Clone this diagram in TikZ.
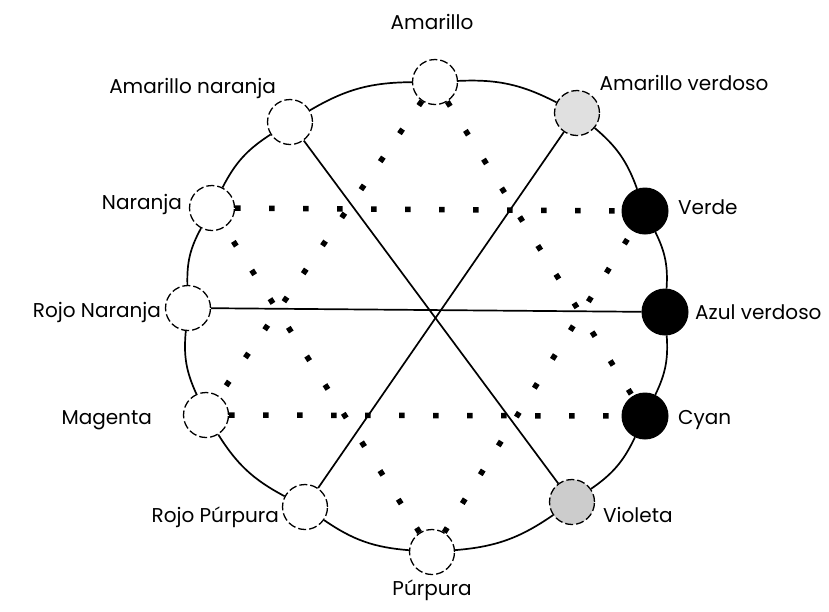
\documentclass[tikz,border=0pt]{standalone}
\usepackage{fontspec}
\setmainfont{Poppins}
\begin{document}
\begin{tikzpicture}[x=1pt,y=-1pt,
  sc/.style={circle,minimum size=45pt,inner sep=0pt,draw,line width=1.3pt,dash pattern=on 8pt off 3pt,fill=white},
  dk/.style={circle,minimum size=46pt,inner sep=0pt,fill=black,draw,line width=1pt},
  gr/.style={sc,fill=black!12},
  ring/.style={line width=1.7pt},
  spoke/.style={line width=1.7pt},
  dotl/.style={line width=5.5pt,dash pattern=on 5.5pt off 28.5pt},
  lab/.style={font=\fontsize{20}{22}\selectfont,inner sep=0pt}]
\useasboundingbox (0,0) rectangle (829,611);
% colour circles
\node[sc] (Am) at (435,82) {};
\node[gr] (AV) at (577,113) {};
\node[dk] (Ve) at (645,211) {};
\node[dk] (AzV) at (665,312) {};
\node[dk] (Cy) at (645,416) {};
\node[gr,fill=black!20] (Vi) at (572,502) {};
\node[sc] (Pu) at (432,552) {};
\node[sc] (RP) at (305,507) {};
\node[sc] (Mg) at (206,415) {};
\node[sc] (RN) at (188,308) {};
\node[sc] (Na) at (212,208) {};
\node[sc] (AN) at (290,122) {};
% outer ring
\draw[ring] (Am) to[bend left=15] (AV);
\draw[ring] (AV) to[bend left=15] (Ve);
\draw[ring] (Ve) to[bend left=15] (AzV);
\draw[ring] (AzV) to[bend left=15] (Cy);
\draw[ring] (Cy) to[bend left=15] (Vi);
\draw[ring] (Vi) to[bend left=15] (Pu);
\draw[ring] (Pu) to[bend left=15] (RP);
\draw[ring] (RP) to[bend left=15] (Mg);
\draw[ring] (Mg) to[bend left=15] (RN);
\draw[ring] (RN) to[bend left=15] (Na);
\draw[ring] (Na) to[bend left=15] (AN);
\draw[ring] (AN) to[bend left=15] (Am);
% spokes
\draw[spoke] (AN) -- (Vi);
\draw[spoke] (AV) -- (RP);
\draw[spoke] (RN) -- (AzV);
% dotted triangles
\draw[dotl] (Am) -- (Mg);
\draw[dotl] (Am) -- (Cy);
\draw[dotl] (Mg) -- (Cy);
\draw[dotl] (Pu) -- (Na);
\draw[dotl] (Pu) -- (Ve);
\draw[dotl] (Na) -- (Ve);
% labels
\node[lab] (tAm) at (432,22) {Amarillo};
\node[lab] (tAV) at (684,83) {Amarillo verdoso};
\node[lab,anchor=west] (tVe) at (678,207) {Verde};
\node[lab,anchor=west] (tAzV) at (695,312) {Azul verdoso};
\node[lab,anchor=west] (tCy) at (678,420) {Cyan};
\node[lab,anchor=west] (tVi) at (603,515) {Violeta};
\node[lab] (tPu) at (432,590) {Púrpura};
\node[lab,anchor=east] (tRP) at (279,517) {Rojo Púrpura};
\node[lab,anchor=east] (tMg) at (152,420) {Magenta};
\node[lab,anchor=east] (tRN) at (161,312) {Rojo Naranja};
\node[lab,anchor=east] (tNa) at (182,204) {Naranja};
\node[lab,anchor=east] (tAN) at (276,88) {Amarillo naranja};
\end{tikzpicture}
\end{document}
